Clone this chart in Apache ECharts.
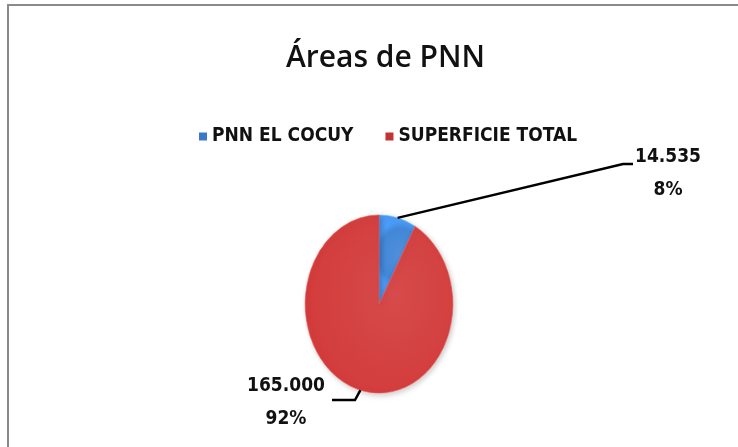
<!DOCTYPE html>
<html>
<head>
<meta charset="utf-8">
<script src="https://cdn.jsdelivr.net/npm/echarts@6/dist/echarts.min.js"></script>
<style>
  html, body { margin: 0; padding: 0; background: #fff; }
  #frame { position: absolute; left: 7px; top: 4px; width: 740px; height: 460px;
           border-left: 2px solid #8a8a8a; border-top: 2px solid #8a8a8a; }
  .layer { position: absolute; left: 0; top: 0; width: 738px; height: 447px; }
  #pie { transform: scaleX(0.83); transform-origin: 379px 304px; }
</style>
</head>
<body>
<div id="frame"></div>
<div id="pie" class="layer"></div>
<div id="labels" class="layer"></div>
<script>
// * Áreas de PNN — pie

const categories = ['PNN EL COCUY', 'SUPERFICIE TOTAL']
const areaValues = [14535, 165000]
const sliceColors = ['#4287d8', '#d33c3c']
const legendColors = ['#3c78c8', '#c23333']

const center = [379, 304]
const radius = 89
const squeeze = 0.83

const pieData = categories.map((name, i) => ({ name, value: areaValues[i] }))

// ? thousand separator with a dot
const fmt = v => String(v).replace(/\B(?=(\d{3})+(?!\d))/g, '.')

const boldFont = '"Liberation Sans Narrow", "DejaVu Sans Condensed", Roboto'

// ? back layer: the coloured slices (squeezed into an ellipse by css)
const pieChart = echarts.init(document.getElementById('pie'))
pieChart.setOption({
  animation: false,
  series: [{
    type: 'pie',
    center: center,
    radius: radius,
    startAngle: 90,
    clockwise: true,
    label: { show: false },
    labelLine: { show: false },
    data: pieData.map((d, i) => ({
      ...d,
      itemStyle: {
        color: {
          type: 'radial', x: 0.6, y: 0.45, r: 0.75,
          colorStops: [
            { offset: 0, color: echarts.color.lift(sliceColors[i], 0.08) },
            { offset: 0.8, color: sliceColors[i] },
            { offset: 1, color: echarts.color.lift(sliceColors[i], -0.15) }
          ]
        },
        borderColor: echarts.color.lift(sliceColors[i], -0.35),
        borderWidth: 0.6,
        shadowBlur: 6,
        shadowColor: 'rgba(0,0,0,0.22)',
        shadowOffsetX: 2,
        shadowOffsetY: 2
      }
    }))
  }]
})

// ? front layer: title, legend, labels
const labelChart = echarts.init(document.getElementById('labels'))
const labelSpots = [
  { x: 668, y: 174, elbow: [623, 164], end: [633, 164] },
  { x: 286, y: 403, elbow: [355, 400], end: [332, 400] }
]

labelChart.setOption({
  animation: false,
  title: {
    text: 'Áreas de PNN',
    left: 281,
    top: 38,
    textStyle: { fontFamily: 'Open Sans', fontSize: 30, fontWeight: 600, color: '#111' }
  },
  legend: {
    left: 194,
    top: 122,
    icon: 'rect',
    itemWidth: 8,
    itemHeight: 8,
    itemGap: 32,
    textStyle: { fontFamily: boldFont, fontWeight: 'bold', fontSize: 19, color: '#111' },
    data: categories.map((name, i) => ({ name, itemStyle: { color: legendColors[i] } }))
  },
  series: [{
    type: 'pie',
    center: center,
    radius: radius,
    startAngle: 90,
    clockwise: true,
    silent: true,
    itemStyle: { color: 'rgba(0,0,0,0)' },
    label: {
      formatter: p => fmt(p.value) + '\n' + Math.round(p.percent) + '%',
      fontFamily: boldFont,
      fontWeight: 'bold',
      fontSize: 19,
      lineHeight: 33,
      color: '#111',
      align: 'center'
    },
    labelLine: { show: true, lineStyle: { color: '#000', width: 2.5 } },
    labelLayout: p => {
      const s = labelSpots[p.dataIndex]
      const pts = p.labelLinePoints
      const start = [center[0] + (pts[0][0] - center[0]) * squeeze, pts[0][1]]
      return {
        x: s.x, y: s.y, align: 'center', verticalAlign: 'middle',
        labelLinePoints: [start, s.elbow, s.end]
      }
    },
    data: pieData
  }]
})
</script>
</body>
</html>
